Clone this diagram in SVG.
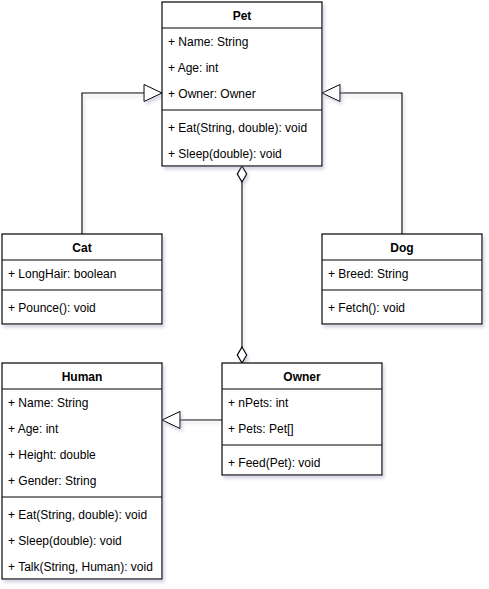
<svg xmlns="http://www.w3.org/2000/svg" width="489" height="589" viewBox="0 0 489 589">
<defs>
<filter id="sh" x="-10%" y="-10%" width="130%" height="130%">
<feDropShadow dx="2" dy="3" stdDeviation="1.5" flood-color="#8a8fb0" flood-opacity="0.35"/>
</filter>
<marker id="tri" viewBox="0 0 20 20" refX="19" refY="10" markerWidth="20" markerHeight="20" markerUnits="userSpaceOnUse" orient="auto">
<path d="M1,1.5 L19,10 L1,18.5 Z" fill="#fff" stroke="#000" stroke-width="1"/>
</marker>
<marker id="dia" viewBox="0 0 12 18" refX="6" refY="1" markerWidth="12" markerHeight="18" markerUnits="userSpaceOnUse" orient="auto-start-reverse">
<path d="M6,1 L10.5,9 L6,17 L1.5,9 Z" fill="#fff" stroke="#000" stroke-width="1"/>
</marker>
</defs>
<style>
rect.box{fill:#fff;stroke:#000;stroke-width:1.2}
line.sep{stroke:#000;stroke-width:1.2}
text{font-family:"Liberation Sans",Arial,Helvetica,sans-serif;font-size:12px;fill:#000}
text.t{font-weight:bold;text-anchor:middle}
.c{fill:none;stroke:#000;stroke-width:1.2}
</style>
<rect width="489" height="589" fill="#fff"/>
<g id="connectors" filter="url(#sh)">
<path class="c" d="M82,234 V93 H162" marker-end="url(#tri)"/>
<path class="c" d="M402,234 V93 H322" marker-end="url(#tri)"/>
<path class="c" d="M222,420 H162" marker-end="url(#tri)"/>
<path d="M242,182 V347" class="c"/>
<path d="M242,166 L246.7,174 L242,182 L237.3,174 Z" fill="#fff" stroke="#000" stroke-width="1.2"/>
<path d="M242,347 L246.7,355 L242,363 L237.3,355 Z" fill="#fff" stroke="#000" stroke-width="1.2"/>
</g>
<g id="pet" filter="url(#sh)">
<rect class="box" x="162" y="2" width="160" height="164"/>
</g>
<g id="pet-text">
<line class="sep" x1="162" y1="28" x2="322" y2="28"/>
<line class="sep" x1="162" y1="110" x2="322" y2="110"/>
<text class="t" x="242" y="19.5">Pet</text>
<text x="168" y="46">+ Name: String</text>
<text x="168" y="72">+ Age: int</text>
<text x="168" y="98">+ Owner: Owner</text>
<text x="168" y="132">+ Eat(String, double): void</text>
<text x="168" y="158">+ Sleep(double): void</text>
</g>
<g id="cat">
<rect class="box" x="2" y="234" width="160" height="90" filter="url(#sh)"/>
<line class="sep" x1="2" y1="260" x2="162" y2="260"/>
<line class="sep" x1="2" y1="290" x2="162" y2="290"/>
<text class="t" x="82" y="251.5">Cat</text>
<text x="8" y="278">+ LongHair: boolean</text>
<text x="8" y="312">+ Pounce(): void</text>
</g>
<g id="dog">
<rect class="box" x="322" y="234" width="160" height="90" filter="url(#sh)"/>
<line class="sep" x1="322" y1="260" x2="482" y2="260"/>
<line class="sep" x1="322" y1="290" x2="482" y2="290"/>
<text class="t" x="402" y="251.5">Dog</text>
<text x="328" y="278">+ Breed: String</text>
<text x="328" y="312">+ Fetch(): void</text>
</g>
<g id="human">
<rect class="box" x="2" y="363" width="160" height="216" filter="url(#sh)"/>
<line class="sep" x1="2" y1="389" x2="162" y2="389"/>
<line class="sep" x1="2" y1="497" x2="162" y2="497"/>
<text class="t" x="82" y="380.5">Human</text>
<text x="8" y="407">+ Name: String</text>
<text x="8" y="433">+ Age: int</text>
<text x="8" y="459">+ Height: double</text>
<text x="8" y="485">+ Gender: String</text>
<text x="8" y="519">+ Eat(String, double): void</text>
<text x="8" y="545">+ Sleep(double): void</text>
<text x="8" y="571">+ Talk(String, Human): void</text>
</g>
<g id="owner">
<rect class="box" x="222" y="363" width="160" height="112" filter="url(#sh)"/>
<line class="sep" x1="222" y1="389" x2="382" y2="389"/>
<line class="sep" x1="222" y1="445" x2="382" y2="445"/>
<text class="t" x="302" y="380.5">Owner</text>
<text x="228" y="407">+ nPets: int</text>
<text x="228" y="433">+ Pets: Pet[]</text>
<text x="228" y="467">+ Feed(Pet): void</text>
</g>
</svg>
